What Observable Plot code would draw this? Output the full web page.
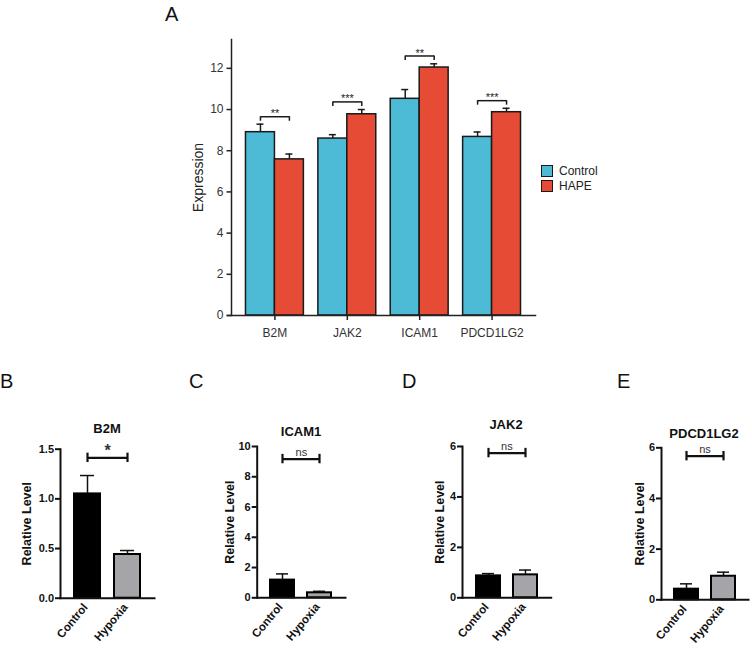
<!DOCTYPE html>
<html><head><meta charset="utf-8">
<script src="https://cdn.jsdelivr.net/npm/d3@7"></script>
<script src="https://cdn.jsdelivr.net/npm/@observablehq/plot@0.6"></script>
<style>
body{margin:0;background:#fff;}
#root{position:relative;width:752px;height:650px;overflow:hidden;font-family:"Liberation Sans",Arial,sans-serif;background:#fff;}
.pl{position:absolute;}
.letter{position:absolute;font-size:20px;color:#111;line-height:1;font-family:"Liberation Sans",Arial,sans-serif;}
.title{position:absolute;font-weight:bold;font-size:13px;color:#111;transform:translate(-50%,-50%);white-space:nowrap;line-height:1;}
.leg{position:absolute;font-size:12px;color:#222;line-height:1;}
.sw{position:absolute;width:10px;height:10px;border:1.5px solid #1a1a1a;}
</style></head><body><div id="root"></div>
<script>
// ---------- Panel A data ----------
const genes = ["B2M", "JAK2", "ICAM1", "PDCD1LG2"];
const groupsA = ["Control", "HAPE"];
const colorsA = ["#4DBBD5", "#E64B35"];
const controlMean = [8.90, 8.59, 10.52, 8.67];
const controlErr = [0.39, 0.19, 0.45, 0.24];
const hapeMean = [7.58, 9.77, 12.04, 9.87];
const hapeErr = [0.26, 0.23, 0.18, 0.19];
const sigLabelsA = ["**", "***", "**", "***"];
const sigLevelA = [9.65, 10.37, 12.60, 10.43];
const yTicksA = [0, 2, 4, 6, 8, 10, 12];

// ---------- Panels B–E data ----------
const groupsB = ["Control", "Hypoxia"];
const colorsB = ["#000000", "#a4a4a9"];
const panelGenes = ["B2M", "ICAM1", "JAK2", "PDCD1LG2"];
const panelLetters = ["B", "C", "D", "E"];
const controlLevel = [1.05, 1.17, 0.87, 0.42];
const controlLevelErr = [0.185, 0.41, 0.09, 0.21];
const hypoxiaLevel = [0.44, 0.33, 0.91, 0.93];
const hypoxiaLevelErr = [0.04, 0.10, 0.19, 0.16];
const panelYMax = [1.5, 10, 6, 6];
const panelTicks = [[0, 0.5, 1.0, 1.5], [0, 2, 4, 6, 8, 10], [0, 2, 4, 6], [0, 2, 4, 6]];
const panelSig = ["*", "ns", "ns", "ns"];
const panelSigLevel = [1.413, 9.17, 5.74, 5.67];

const root = document.getElementById("root");
function place(el, left, top) { el.classList.add("pl"); el.style.left = left + "px"; el.style.top = top + "px"; root.appendChild(el); }

// ---------- Panel A ----------
const rowsA = [];
genes.forEach((g, i) => groupsA.forEach((grp, gi) => rowsA.push({
  i, gene: g, group: grp, gi,
  mean: gi ? hapeMean[i] : controlMean[i],
  err: gi ? hapeErr[i] : controlErr[i]
})));
const sigA = genes.map((g, i) => ({i, label: sigLabelsA[i], y: sigLevelA[i]}));
const capsA = sigA.flatMap(d => [{x: d.i - 0.2, y: d.y}, {x: d.i + 0.2, y: d.y}]);
const barX1 = d => d.i - 0.4 + d.gi * 0.4;
const barX2 = d => d.i + d.gi * 0.4;
const barC = d => d.i - 0.2 + d.gi * 0.4;

const plotA = Plot.plot({
  width: 752, height: 345,
  marginLeft: 231, marginRight: 217, marginTop: 39, marginBottom: 30,
  style: {fontFamily: "Liberation Sans, Arial, sans-serif", fontSize: "12px", color: "#333", background: "transparent", overflow: "visible"},
  x: {domain: [-0.6, 3.6]},
  y: {domain: [0, 13.4]},
  color: {domain: groupsA, range: colorsA},
  marks: [
    Plot.rectY(rowsA, {x1: barX1, x2: barX2, y1: 0, y2: "mean", fill: "group", stroke: "#1a1a1a", strokeWidth: 1.5}),
    Plot.ruleX(rowsA, {x: barC, y1: "mean", y2: d => d.mean + d.err, stroke: "#1a1a1a", strokeWidth: 1.5}),
    Plot.ruleY(rowsA, {x1: barC, x2: barC, y: d => d.mean + d.err, insetLeft: -3.5, insetRight: -3.5, stroke: "#1a1a1a", strokeWidth: 1.5}),
    Plot.link(sigA, {x1: d => d.i - 0.2, x2: d => d.i + 0.2, y1: "y", y2: "y", stroke: "#1a1a1a", strokeWidth: 1.5}),
    Plot.ruleX(capsA, {x: "x", y1: "y", y2: "y", insetBottom: -4.5, stroke: "#1a1a1a", strokeWidth: 1.5}),
    Plot.text(sigA, {x: "i", y: "y", text: "label", dy: -3, fontSize: 11, fill: "#222"}),
    Plot.axisY({ticks: yTicksA, tickSize: 4.5, tickPadding: 3.5, label: null, stroke: "#222", strokeWidth: 1.5}),
    Plot.axisX({ticks: genes.map((g, i) => i), tickFormat: i => genes[i], tickSize: 5, tickPadding: 8, label: null, stroke: "#222", strokeWidth: 1.5}),
    Plot.frame({anchor: "left", stroke: "#222", strokeWidth: 1.5}),
    Plot.frame({anchor: "bottom", stroke: "#222", strokeWidth: 1.5, insetLeft: -4}),
    Plot.text(["Expression"], {frameAnchor: "left", textAnchor: "middle", rotate: -90, dx: -33, fontSize: 14, fill: "#222"})
  ]
});
place(plotA, 0, 0);

// legend A
groupsA.forEach((g, k) => {
  const sw = document.createElement("div");
  sw.className = "sw"; sw.style.left = "541px"; sw.style.top = (165 + k * 15) + "px"; sw.style.background = colorsA[k];
  root.appendChild(sw);
  const t = document.createElement("div");
  t.className = "leg"; t.textContent = g; t.style.left = "559px"; t.style.top = (165 + k * 15) + "px";
  root.appendChild(t);
});

// ---------- Panels B–E ----------
const layout = [
  {left: 0, w: 165, ml: 60, mr: 11, mt: 8.7, mb: 47.3, labDx: -33.3, fmt: d3.format(".1f"), title: [107, 428], letter: [0, 371]},
  {left: 165, w: 185, ml: 91.7, mr: 5, mt: 6, mb: 47.7, labDx: -27.4, fmt: d3.format("d"), title: [301, 431], letter: [189, 371]},
  {left: 350, w: 205, ml: 112, mr: 4.3, mt: 6, mb: 47.7, labDx: -22.4, fmt: d3.format("d"), title: [506, 424], letter: [402, 371]},
  {left: 555, w: 197, ml: 106, mr: 4, mt: 7.3, mb: 45.7, labDx: -22, fmt: d3.format("d"), title: [704, 433], letter: [617, 371]}
];

panelGenes.forEach((gene, p) => {
  const L = layout[p];
  const rows = [
    {group: groupsB[0], mean: controlLevel[p], err: controlLevelErr[p]},
    {group: groupsB[1], mean: hypoxiaLevel[p], err: hypoxiaLevelErr[p]}
  ];
  const sig = [{label: panelSig[p], y: panelSigLevel[p]}];
  const caps = groupsB.map(g => ({group: g, y: panelSigLevel[p]}));
  const star = panelSig[p] === "*";
  const pl = Plot.plot({
    width: L.w, height: 205,
    marginLeft: L.ml, marginRight: L.mr, marginTop: L.mt, marginBottom: L.mb,
    style: {fontFamily: "Liberation Sans, Arial, sans-serif", fontSize: "11px", fontWeight: "bold", color: "#111", background: "transparent", overflow: "visible"},
    x: {domain: groupsB, padding: 0.35},
    y: {domain: [0, panelYMax[p]]},
    color: {domain: groupsB, range: colorsB},
    marks: [
      Plot.barY(rows, {x: "group", y: "mean", fill: "group", stroke: "#000", strokeWidth: 2}),
      Plot.ruleX(rows, {x: "group", y1: "mean", y2: d => d.mean + d.err, stroke: "#111", strokeWidth: 1.5}),
      Plot.tickY(rows, {x: "group", y: d => d.mean + d.err, insetLeft: 6, insetRight: 6, stroke: "#111", strokeWidth: 1.5}),
      Plot.link(sig, {x1: () => groupsB[0], x2: () => groupsB[1], y1: "y", y2: "y", stroke: "#111", strokeWidth: 2.2}),
      Plot.ruleX(caps, {x: "group", y1: "y", y2: "y", insetTop: -4.7, insetBottom: -4.7, stroke: "#111", strokeWidth: 2.2}),
      Plot.text(sig, {y: "y", text: "label", dy: -7,
        fontSize: star ? 16 : 11, fontWeight: star ? "bold" : "normal", fill: "#333"}),
      Plot.axisY({ticks: panelTicks[p], tickFormat: L.fmt, tickSize: 5, tickPadding: 1.5, label: null, stroke: "#111", strokeWidth: 2}),
      Plot.axisX({tickSize: 0, tickRotate: -50, tickPadding: 7, dx: -2, label: null, fontSize: 11.5}),
      Plot.frame({anchor: "left", stroke: "#111", strokeWidth: 2}),
      Plot.frame({anchor: "bottom", stroke: "#111", strokeWidth: 2}),
      Plot.text(["Relative Level"], {frameAnchor: "left", textAnchor: "middle", rotate: -90, dx: L.labDx, fontSize: 12.5, fontWeight: "bold", fill: "#111"})
    ]
  });
  place(pl, L.left, 440);
  const t = document.createElement("div");
  t.className = "title"; t.textContent = gene; t.style.left = L.title[0] + "px"; t.style.top = L.title[1] + "px";
  root.appendChild(t);
  const lt = document.createElement("div");
  lt.className = "letter"; lt.textContent = panelLetters[p]; lt.style.left = L.letter[0] + "px"; lt.style.top = L.letter[1] + "px";
  root.appendChild(lt);
});

const la = document.createElement("div");
la.className = "letter"; la.textContent = "A"; la.style.left = "165px"; la.style.top = "4px";
root.appendChild(la);
</script>
</body></html>
